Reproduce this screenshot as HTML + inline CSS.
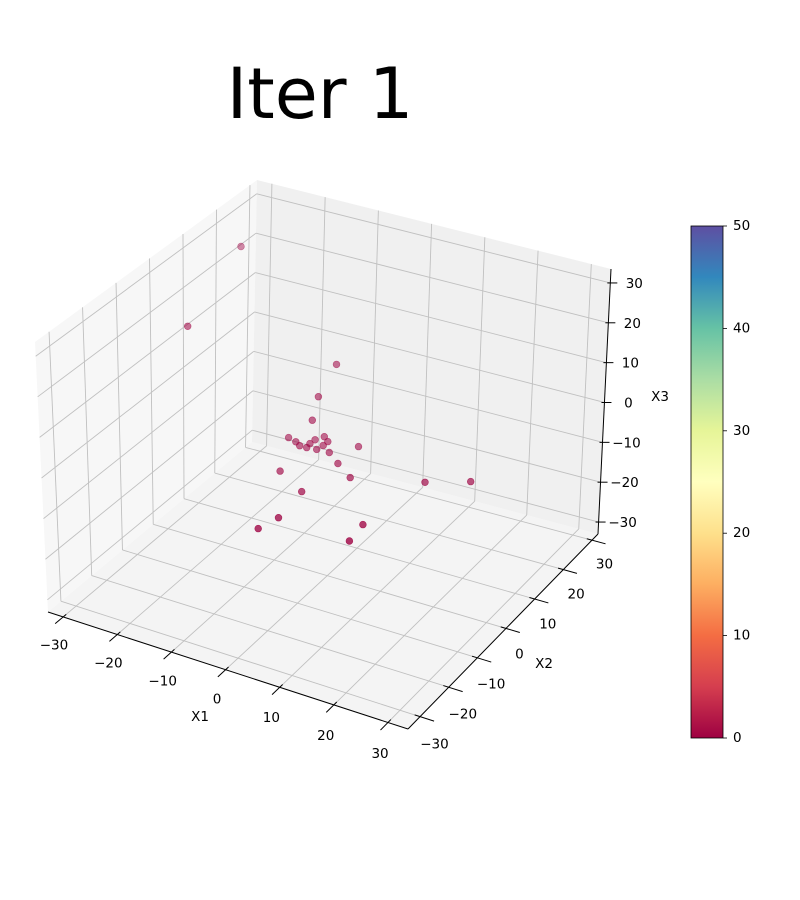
<!DOCTYPE html>
<html><head><meta charset="utf-8"><style>
html,body{margin:0;padding:0;background:#fff;}
svg{display:block;font-family:"DejaVu Sans","Liberation Sans",sans-serif;}
</style></head><body>
<svg id="chart" width="800" height="900" viewBox="0 0 800 900" xmlns="http://www.w3.org/2000/svg">
<text x="320" y="118" font-size="70" text-anchor="middle" fill="#000">Iter 1</text>
<g id="panes"></g>
<g id="grid"></g>
<g id="axes"></g>
<g id="points"></g>
<defs>
<linearGradient id="spectral" x1="0" y1="1" x2="0" y2="0">
<stop offset="0" stop-color="#9e0142"/><stop offset="0.1" stop-color="#d53e4f"/>
<stop offset="0.2" stop-color="#f46d43"/><stop offset="0.3" stop-color="#fdae61"/>
<stop offset="0.4" stop-color="#fee08b"/><stop offset="0.5" stop-color="#ffffbf"/>
<stop offset="0.6" stop-color="#e6f598"/><stop offset="0.7" stop-color="#abdda4"/>
<stop offset="0.8" stop-color="#66c2a5"/><stop offset="0.9" stop-color="#3288bd"/>
<stop offset="1" stop-color="#5e4fa2"/>
</linearGradient>
</defs>
<g id="colorbar"></g>
</svg>
<script>
// ---- data ----
const x1Vals = [-27.4,-27.5,-7.2,-8.7,-7.9,-12.7,-11.0,-9.8,-8.5,-8.7,-8.6,-7.8,-6.5,-6.5,-6.8,-4.5,-1.3,-1.5,-8.4,-2.1,2.5,-1.2,-2.3,11.6,12.2,13.9,20.4];
const x2Vals = [18.7,2.6,15.0,11.9,8.6,9.3,8.7,7.9,7.9,9.3,10.8,12.4,11.3,9.8,8.2,8.3,12.3,5.9,-0.9,-4.9,2.9,-14.1,-18.8,-9.1,-14.7,7.5,11.2];
const x3Vals = [26.9,16.9,6.9,0.3,-3.1,-9.7,-9.7,-9.7,-9.7,-9.7,-9.7,-9.7,-9.7,-9.7,-9.7,-9.7,-9.7,-9.7,-9.7,-9.7,-9.7,-9.7,-9.7,-9.7,-9.7,-9.7,-9.7];
const colorVals = [0,0,0,0,0,0,0,0,0,0,0,0,0,0,0,0,0,0,0,0,0,0,0,0,0,0,0];
const tickVals = [-30,-20,-10,0,10,20,30];
const tickLabels = ["\u221230","\u221220","\u221210","0","10","20","30"];
const cbTicks = [0,10,20,30,40,50];

// ---- projection (trilinear between box corners) ----
const X1 = [-32.8,33.7], X2 = [-34.2,32.1], X3 = [-33,33.5];
const C = {
  '000':[48,612],'100':[408,729],'110':[598,534],'010':[252,442],
  '001':[35,342],'101':[411,452],'111':[611,269],'011':[257,180]
};
function proj(a,b,c){
  const u=(a-X1[0])/(X1[1]-X1[0]), v=(b-X2[0])/(X2[1]-X2[0]), w=(c-X3[0])/(X3[1]-X3[0]);
  const r=[0,0];
  for(let i=0;i<2;i++){
    r[i]=C['000'][i]*(1-u)*(1-v)*(1-w)+C['100'][i]*u*(1-v)*(1-w)+C['110'][i]*u*v*(1-w)+C['010'][i]*(1-u)*v*(1-w)
        +C['001'][i]*(1-u)*(1-v)*w+C['101'][i]*u*(1-v)*w+C['111'][i]*u*v*w+C['011'][i]*(1-u)*v*w;
  }
  return r;
}
const NS='http://www.w3.org/2000/svg';
function mk(tag,attrs,parent){const e=document.createElementNS(NS,tag);for(const k in attrs)e.setAttribute(k,attrs[k]);parent.appendChild(e);return e;}
const panes=document.getElementById('panes'),grid=document.getElementById('grid'),axes=document.getElementById('axes'),pts=document.getElementById('points'),cb=document.getElementById('colorbar');
function poly(list){return list.map(p=>p.join(',')).join(' ');}
const [a0,a1]=X1,[b0,b1]=X2,[c0,c1]=X3;
let p;
p=mk('polygon',{points:poly([proj(a0,b0,c0),proj(a1,b0,c0),proj(a1,b1,c0),proj(a0,b1,c0)]),fill:'#f4f4f4'},panes);


p=mk('polygon',{points:poly([proj(a0,b0,c0),proj(a0,b1,c0),proj(a0,b1,c1),proj(a0,b0,c1)]),fill:'#f7f7f7'},panes);


p=mk('polygon',{points:poly([proj(a0,b1,c0),proj(a1,b1,c0),proj(a1,b1,c1),proj(a0,b1,c1)]),fill:'#f0f0f0'},panes);


function gl(P,Q){const l=mk('line',{x1:P[0],y1:P[1],x2:Q[0],y2:Q[1],stroke:'#c0c0c0','stroke-width':0.9},grid);

}
tickVals.forEach(t=>{
  gl(proj(t,b0,c0),proj(t,b1,c0)); gl(proj(t,b1,c0),proj(t,b1,c1));
  gl(proj(a0,t,c0),proj(a1,t,c0)); gl(proj(a0,t,c0),proj(a0,t,c1));
  gl(proj(a0,b1,t),proj(a1,b1,t)); gl(proj(a0,b0,t),proj(a0,b1,t));
});
function al(P,Q,name){const l=mk('line',{x1:P[0],y1:P[1],x2:Q[0],y2:Q[1],stroke:'#000','stroke-width':1},axes);

}
al(proj(a0,b0,c0),proj(a1,b0,c0),'x1-axis-line');
al(proj(a1,b0,c0),proj(a1,b1,c0),'x2-axis-line');
al(proj(a1,b1,c0),proj(a1,b1,c1),'x3-axis-line');
function txt(x,y,s,name,anchor){const t=mk('text',{x:x,y:y,'font-size':13.5,'text-anchor':anchor||'middle','dominant-baseline':'central',fill:'#000'},axes);t.textContent=s;

return t;}
tickVals.forEach((t,i)=>{
  let P=proj(t,b0,c0),Q=proj(t,b0-2.6,c0),R=proj(t,b0+1,c0);
  al(R,Q,'x1-tick');
  let L=proj(t,b0-9,c0-2); txt(L[0]+18,L[1]-3,tickLabels[i],'x1-tick-label');
  P=proj(a1,t,c0);Q=proj(a1+2.6,t,c0);R=proj(a1-1,t,c0);
  al(R,Q,'x2-tick');
  L=proj(a1+9,t,c0-2); txt(L[0]-34,L[1]+4,tickLabels[i],'x2-tick-label');
  P=proj(a1,b1,t);
  al([P[0]-3,P[1]],[P[0]+7,P[1]],'x3-tick');
  txt(P[0]+24,P[1]+1,tickLabels[i],'x3-tick-label');
});
txt(200,717,'X1','x1-axis-title');
txt(544,664,'X2','x2-axis-title');
txt(660,397,'X3','x3-axis-title');

// scatter
const near=x1Vals.map((v,i)=>0.5*(v-X1[0])/(X1[1]-X1[0])-0.866*(x2Vals[i]-X2[0])/(X2[1]-X2[0]));
const nmin=Math.min(...near),nmax=Math.max(...near);
const order=x1Vals.map((_,i)=>i).sort((i,j)=>near[i]-near[j]);
order.forEach(i=>{
  const P=proj(x1Vals[i],x2Vals[i],x3Vals[i]);
  const a=0.45+0.35*(near[i]-nmin)/((nmax-nmin)||1);
  const c=mk('circle',{cx:P[0].toFixed(1),cy:P[1].toFixed(1),r:3.4,fill:'#9e0142','fill-opacity':a,stroke:'#9e0142','stroke-opacity':a,'stroke-width':0.6},pts);
  
  
});

// colorbar
const cbX=691,cbW=32,cbTop=226,cbBot=738;
const r=mk('rect',{x:cbX,y:cbTop,width:cbW,height:cbBot-cbTop,fill:'url(#spectral)',stroke:'#000','stroke-width':0.8},cb);


cbTicks.forEach(t=>{
  const y=cbBot-(t-0)/50*(cbBot-cbTop);
  const l=mk('line',{x1:cbX+cbW,y1:y,x2:cbX+cbW+4,y2:y,stroke:'#000','stroke-width':0.8},cb);
  
  
  const tx=mk('text',{x:cbX+cbW+10,y:y,'font-size':13.5,'dominant-baseline':'central',fill:'#000'},cb);
  tx.textContent=String(t);
  
  
});
</script>
</body></html>
